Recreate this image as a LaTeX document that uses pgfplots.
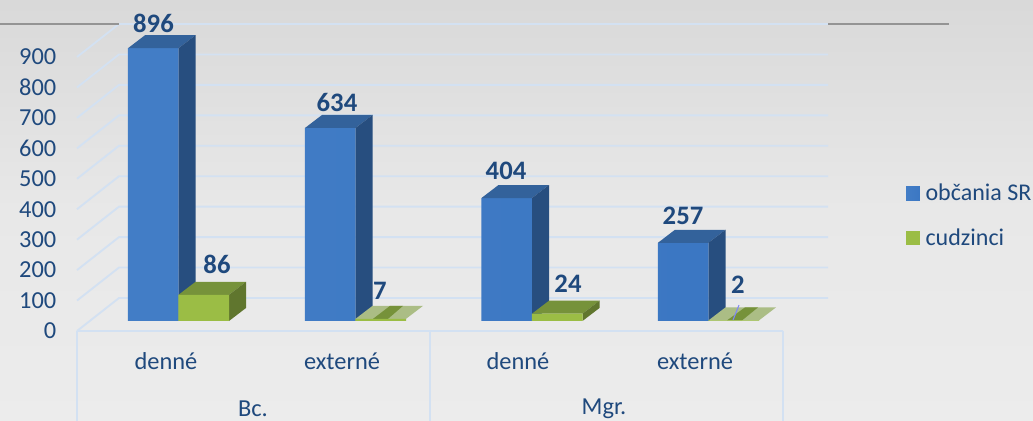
\documentclass[border=0pt]{standalone}
\usepackage{fontspec}
\setmainfont{Carlito}
\usepackage{pgfplots}
\pgfplotsset{compat=1.18}
\definecolor{txt}{HTML}{1F497D}
\definecolor{gridc}{HTML}{D3E1F2}
\definecolor{bluef}{HTML}{3B77C3}
\definecolor{bluefl}{HTML}{427DC6}
\definecolor{blues}{HTML}{274E7F}
\definecolor{bluet}{HTML}{33629B}
\definecolor{greenf}{HTML}{9BBD45}
\definecolor{greent}{HTML}{76923A}
\definecolor{greens}{HTML}{60762E}
\definecolor{palet}{HTML}{ABBD85}
\tikzset{
  blab/.style={font=\fontsize{20}{21}\selectfont\bfseries, text=txt, inner sep=0pt},
}
\pgfplotsset{
  gl/.style={draw=gridc, line width=1.4pt, forget plot},
  poly/.style={draw=none, forget plot},
  common/.style={
    scale only axis, width=563.25pt, height=205.5pt,
    xmin=77, xmax=828, ymin=0, ymax=900, clip=false,
    axis line style={draw=none}, major tick length=0pt,
  },
}
\begin{document}
\begin{tikzpicture}[x=1pt,y=1pt]
\useasboundingbox (0,0) rectangle (774.75,315.75);
\shade[top color=black!15, bottom color=black!7.5, middle color=black!9] (0,0) rectangle (774.75,315.75);
\begin{axis}[common,
  at={(57.75pt,67.5pt)}, anchor=south west,
  ytick={0,100,200,300,400,500,600,700,800,900},
  xtick={166,342,518,695},
  xticklabels={denné,externé,denné,externé},
  tick label style={font=\fontsize{18.3}{19}\selectfont, text=txt},
  yticklabel style={xshift=-12pt},
  xticklabel style={yshift=-12.5pt},
  /pgf/number format/assume math mode=true,
]
\addplot[gl] coordinates {(77,0)(119,108.4)(828,108.4)};
\addplot[gl] coordinates {(77,100)(119,208.4)(828,208.4)};
\addplot[gl] coordinates {(77,200)(119,308.4)(828,308.4)};
\addplot[gl] coordinates {(77,300)(119,408.4)(828,408.4)};
\addplot[gl] coordinates {(77,400)(119,508.4)(828,508.4)};
\addplot[gl] coordinates {(77,500)(119,608.4)(828,608.4)};
\addplot[gl] coordinates {(77,600)(119,708.4)(828,708.4)};
\addplot[gl] coordinates {(77,700)(119,808.4)(828,808.4)};
\addplot[gl] coordinates {(77,800)(119,908.4)(828,908.4)};
\addplot[gl] coordinates {(77,900)(119,1008.4)(828,1008.4)};
\addplot[gl] coordinates {(77,0)(783,0)};
\addplot[gl] coordinates {(77,0)(77,-296)};
\addplot[gl] coordinates {(430,0)(430,-296)};
\addplot[gl] coordinates {(783,0)(783,-296)};
\addplot[draw=black!42, line width=1.3pt, forget plot] coordinates {(0,1008.4)(119,1008.4)};
\addplot[draw=black!42, line width=1.3pt, forget plot] coordinates {(828,1008.4)(949,1008.4)};
\node[font=\fontsize{18.3}{19}\selectfont, text=txt, inner sep=0pt] at (axis cs:253,-256) {Bc.};
\node[font=\fontsize{18.3}{19}\selectfont, text=txt, inner sep=0pt] at (axis cs:604,-256) {Mgr.};
\end{axis}
\begin{axis}[common,
  at={(57.75pt,75pt)}, anchor=south west,
  xtick=\empty, ytick=\empty,
  legend cell align=left,
  legend style={draw=none, fill=none, font=\fontsize{18}{19}\selectfont, text=txt,
    at={(1.104,0.51)}, anchor=north west, legend columns=1, inner sep=0pt, outer sep=0pt,
    row sep=15.5pt},
  legend image code/.code={\fill[#1] (0pt,-5.2pt) rectangle (10.4pt,5.2pt); \path (12.6pt,0pt);},
]
% front faces, citizens
\addplot[ybar, bar shift=0pt, bar width=37.9pt, draw=none, left color=bluefl, right color=bluef]
  coordinates {(153.25,896)(330.25,634)(506.75,404)(683.25,257)};
\addlegendentry{občania SR}
% tops and sides, citizens
\addplot[poly, fill=bluet] coordinates {(128,896)(178.5,896)(195.5,938.7)(145,938.7)};
\addplot[poly, fill=blues] coordinates {(178.5,0)(195.5,42.7)(195.5,938.7)(178.5,896)};
\addplot[poly, fill=bluet] coordinates {(305,634)(355.5,634)(372.5,676.7)(322,676.7)};
\addplot[poly, fill=blues] coordinates {(355.5,0)(372.5,42.7)(372.5,676.7)(355.5,634)};
\addplot[poly, fill=bluet] coordinates {(481.5,404)(532,404)(549,446.7)(498.5,446.7)};
\addplot[poly, fill=blues] coordinates {(532,0)(549,42.7)(549,446.7)(532,404)};
\addplot[poly, fill=bluet] coordinates {(658,257)(708.5,257)(725.5,299.7)(675,299.7)};
\addplot[poly, fill=blues] coordinates {(708.5,0)(725.5,42.7)(725.5,299.7)(708.5,257)};
% tops and sides, foreigners
\addplot[poly, fill=greent] coordinates {(178.5,86)(229,86)(246,128.7)(195.5,128.7)};
\addplot[poly, fill=greens] coordinates {(229,0)(246,42.7)(246,128.7)(229,86)};
\addplot[poly, fill=palet] coordinates {(355.5,7)(406,7)(423,49.7)(372.5,49.7)};
\addplot[poly, fill=greent] coordinates {(373,7)(388,7)(403,49.7)(390,49.7)};
\addplot[poly, fill=greent] coordinates {(532,24)(582.5,24)(599.5,66.7)(549,66.7)};
\addplot[poly, fill=greens] coordinates {(582.5,0)(599.5,42.7)(599.5,66.7)(582.5,24)};
\addplot[poly, fill=palet] coordinates {(708.5,2)(759,2)(776,44.7)(725.5,44.7)};
\addplot[poly, fill=greent] coordinates {(727,2)(742,2)(758,44.7)(745,44.7)};
\addplot[draw=blue!40!gridc, line width=0.8pt, forget plot] coordinates {(733,3)(739,52)};
% front faces, foreigners
\addplot[ybar, bar shift=0pt, bar width=37.9pt, draw=none, fill=greenf]
  coordinates {(203.75,86)(380.75,7)(557.25,24)(733.75,2)};
\addlegendentry{cudzinci}
\node[blab] at (axis cs:153.5,978) {896};
\node[blab] at (axis cs:217,187) {86};
\node[blab] at (axis cs:337,719) {634};
\node[blab] at (axis cs:380,99) {7};
\node[blab] at (axis cs:506,492) {404};
\node[blab] at (axis cs:568,121) {24};
\node[blab] at (axis cs:683,345) {257};
\node[blab] at (axis cs:738,118) {2};
\end{axis}
\end{tikzpicture}
\end{document}
